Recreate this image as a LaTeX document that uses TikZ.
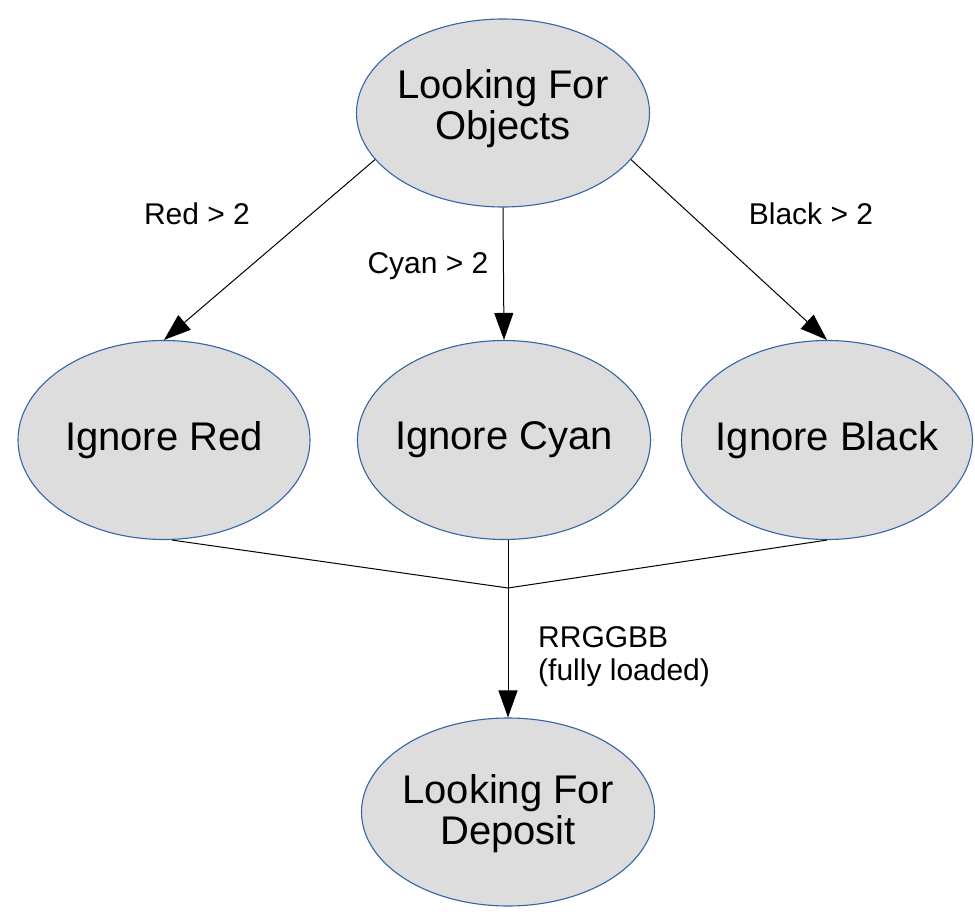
\documentclass[tikz,border=0pt]{standalone}
\usepackage{fontspec}
\setmainfont{Liberation Sans}
\usetikzlibrary{shapes.geometric,arrows.meta}
\definecolor{nodefill}{HTML}{DDDDDD}
\definecolor{nodeline}{HTML}{3465A4}
\tikzset{
  state/.style={ellipse, draw=nodeline, fill=nodefill, line width=1.1pt,
    minimum width=293pt, minimum height=#1, inner sep=0pt},
  state/.default=190pt,
  nodetext/.style={font=\fontsize{40}{41}\selectfont, align=center, inner sep=0pt},
  conn/.style={draw=black, line width=1pt},
  arr/.style={conn, -{Triangle[length=27pt,width=19pt]}},
  lbl/.style={font=\fontsize{30}{33}\selectfont, inner sep=0pt, align=left}
}
\begin{document}
\begin{tikzpicture}[x=1pt,y=-1pt]
\useasboundingbox (0,0) rectangle (975,912);
\node[state=188pt] (obj) at (503,113) {};
\node[state=199pt, minimum width=292pt] (red) at (164,440) {};
\node[state=199pt] (cyan) at (504,440) {};
\node[state=199pt, minimum width=291pt] (black) at (827,440) {};
\node[state=188pt] (dep) at (508,812) {};
\node[nodetext] (objt) at ([yshift=4pt]obj.center) {Looking For\\Objects};
\node[nodetext] (redt) at (red) {Ignore Red};
\node[nodetext] (cyant) at (cyan) {Ignore Cyan};
\node[nodetext] (blackt) at (black) {Ignore Black};
\node[nodetext] (dept) at ([yshift=-2pt]dep.center) {Looking For\\Deposit};
\coordinate (j) at (508,588);
\draw[arr] (obj.200) -- (red.north);
\draw[arr] (obj.south) -- (cyan.north);
\draw[arr] (obj.-20) -- (black.north);
\draw[conn] (red.south) ++(8,0) coordinate (rs) -- (j);
\draw[conn] (black.south) -- (j);
\draw[conn] (cyan.south -| j) -- (j);
\draw[arr] (j) -- (dep.north);
\node[lbl, anchor=center] (l1) at (197,214) {Red > 2};
\node[lbl, anchor=center] (l2) at (428,266) {Cyan > 2};
\node[lbl, anchor=center] (l3) at (811,214) {Black > 2};
\node[lbl, anchor=north west] (l4) at (538,626) {RRGGBB\\(fully loaded)};
\end{tikzpicture}
\end{document}
